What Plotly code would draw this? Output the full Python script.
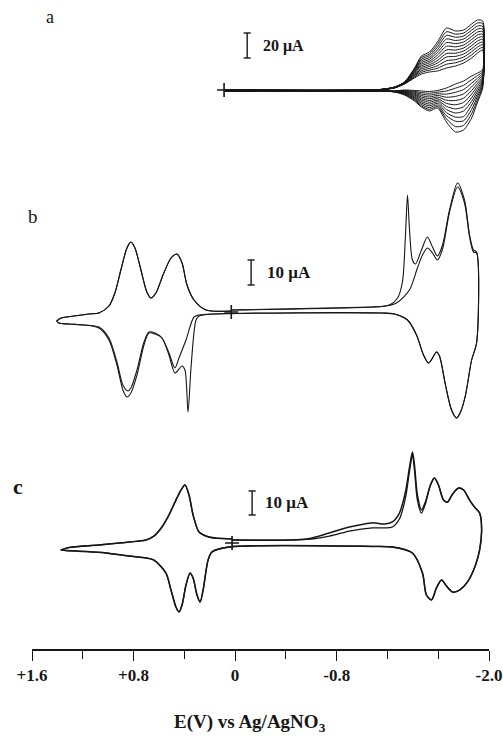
import plotly.graph_objects as go

# ---------------- data (E in V vs Ag/AgNO3, I in microamps, cathodic up) ----------------
# Panel a: repetitive cycles (12 scans), key potentials
E_A = [0.08, -1.14, -1.255, -1.334, -1.413, -1.468, -1.531, -1.594, -1.665, -1.736, -1.80, -1.863, -1.91, -1.95]
A_UP = [
    [0, 0.2, 1.6, 4.8, 9.6, 12.8, 14.4, 15.2, 17.6, 19.2, 21.6, 25.6, 29.6, 32.0],
    [0, 0.2, 1.7, 4.9, 10.3, 14.1, 15.9, 17.4, 20.6, 21.8, 24.0, 28.1, 32.0, 34.1],
    [0, 0.2, 1.7, 5.1, 11.1, 15.4, 17.3, 19.4, 23.4, 24.3, 26.4, 30.6, 34.4, 36.2],
    [0, 0.3, 1.8, 5.2, 11.8, 16.7, 18.8, 21.6, 26.4, 26.9, 28.8, 33.0, 36.8, 38.3],
    [0, 0.3, 1.9, 5.4, 12.5, 18.0, 20.2, 23.6, 29.2, 29.4, 31.2, 35.5, 39.2, 40.4],
    [0, 0.3, 2.0, 5.5, 13.3, 19.3, 21.7, 25.8, 32.1, 32.0, 33.6, 38.0, 41.6, 42.5],
    [0, 0.3, 2.0, 5.7, 14.0, 20.6, 23.1, 27.9, 35.0, 34.5, 36.0, 40.4, 44.0, 44.6],
    [0, 0.3, 2.1, 5.8, 14.7, 21.9, 24.6, 30.0, 37.9, 37.1, 38.4, 42.9, 46.4, 46.7],
    [0, 0.3, 2.2, 6.0, 15.5, 23.3, 26.0, 32.1, 40.8, 39.6, 40.8, 45.4, 48.8, 48.8],
    [0, 0.4, 2.3, 6.1, 16.2, 24.6, 27.5, 34.2, 43.7, 42.2, 43.2, 47.9, 51.2, 50.9],
    [0, 0.4, 2.3, 6.3, 16.9, 25.9, 28.9, 36.3, 46.6, 44.7, 45.6, 50.3, 53.6, 53.1],
    [0, 0.4, 2.4, 6.4, 17.6, 27.2, 30.4, 38.4, 49.6, 47.2, 48.0, 52.8, 56.0, 55.2],
]
A_DOWN = [
    [-0.8, -0.8, -0.8, 0.0, -0.4, -0.8, -1.2, -0.4, 1.6, 4.8, 7.2, 11.2, 13.6, 16.0],
    [-0.8, -0.8, -0.9, -0.4, -1.1, -2.0, -2.6, -1.7, -0.8, 1.5, 3.8, 8.3, 11.6, 14.7],
    [-0.8, -0.8, -0.9, -0.7, -1.9, -3.2, -4.1, -3.0, -3.3, -1.8, 0.4, 5.4, 9.5, 13.4],
    [-0.8, -0.8, -1.0, -1.1, -2.6, -4.4, -5.6, -4.3, -5.8, -5.1, -3.1, 2.5, 7.5, 12.1],
    [-0.8, -0.8, -1.1, -1.5, -3.4, -5.6, -7.0, -5.6, -8.2, -8.4, -6.5, -0.4, 5.4, 10.7],
    [-0.8, -0.8, -1.2, -1.8, -4.1, -6.8, -8.4, -6.9, -10.7, -11.8, -9.9, -3.3, 3.4, 9.4],
    [-0.8, -0.8, -1.2, -2.2, -4.9, -8.0, -9.8, -8.2, -13.1, -15.1, -13.4, -6.2, 1.3, 8.1],
    [-0.8, -0.8, -1.3, -2.5, -5.7, -9.2, -11.3, -9.4, -15.6, -18.4, -16.8, -9.1, -0.8, 6.8],
    [-0.8, -0.8, -1.4, -2.9, -6.4, -10.4, -12.7, -10.7, -18.1, -21.7, -21.2, -12.0, -2.9, 5.5],
    [-0.8, -0.8, -1.4, -3.3, -7.2, -11.6, -14.1, -12.0, -20.6, -25.0, -24.6, -15.6, -5.0, 4.2],
    [-0.8, -0.8, -1.5, -3.6, -8.0, -12.8, -15.5, -13.2, -23.1, -29.3, -28.3, -19.0, -7.3, 2.9],
    [-0.8, -0.8, -1.6, -4.0, -8.8, -13.6, -16.8, -14.4, -25.6, -33.6, -32.0, -22.4, -9.6, 1.6],
]

# Panel b: two scans
B_FWD_A_E = [0.03, -1.08, -1.215, -1.28, -1.318, -1.342, -1.358, -1.373, -1.397, -1.421, -1.468, -1.515, -1.555, -1.594, -1.634, -1.689, -1.752, -1.807, -1.847, -1.878, -1.902]
B_FWD_A_I = [0.0, 1.2, 2.0, 4.8, 11.2, 30.0, 46.0, 32.8, 20.0, 18.4, 24.0, 29.2, 25.2, 21.6, 26.0, 40.0, 50.8, 44.0, 30.0, 24.0, 23.2]
B_FWD_B_E = [0.03, -1.08, -1.16, -1.271, -1.373, -1.436, -1.476, -1.515, -1.555, -1.594, -1.634, -1.689, -1.752, -1.807, -1.847, -1.878, -1.902]
B_FWD_B_I = [0.0, 1.2, 1.4, 2.8, 8.0, 16.8, 22.0, 24.8, 22.8, 20.0, 24.4, 39.2, 49.2, 42.8, 29.2, 23.2, 22.8]
B_REV_E = [-1.902, -1.863, -1.815, -1.776, -1.744, -1.705, -1.657, -1.61, -1.586, -1.555, -1.523, -1.484, -1.429, -1.358, -1.255, -1.16, 0.166]
B_REV_I = [-13.2, -20.0, -34.0, -40.8, -43.2, -40.0, -30.0, -18.4, -16.8, -19.2, -21.2, -18.0, -10.0, -4.0, -1.6, -1.2, -1.6]
B_LEFT_A_E = [0.284, 0.308, 0.347, 0.371, 0.395, 0.418, 0.474, 0.521, 0.576, 0.631, 0.679, 0.718, 0.773, 0.821, 0.852, 0.884, 0.931, 0.994, 1.073, 1.192, 1.31, 1.389, 1.405]
B_LEFT_A_I = [-2.4, -4.0, -22.8, -40.8, -24.0, -22.4, -25.2, -18.0, -11.2, -9.6, -9.2, -14.0, -26.0, -33.2, -34.8, -32.0, -22.0, -12.0, -7.2, -6.0, -5.6, -5.2, -4.4]
B_LEFT_B_E = [0.284, 0.324, 0.387, 0.442, 0.474, 0.521, 0.576, 0.631, 0.679, 0.718, 0.773, 0.821, 0.845, 0.884, 0.931, 0.994, 1.073, 1.192, 1.31, 1.389, 1.405]
B_LEFT_B_I = [-2.0, -2.8, -12.0, -19.2, -23.2, -17.2, -11.2, -9.2, -8.8, -12.8, -24.0, -31.2, -32.4, -30.0, -20.8, -11.2, -6.8, -6.0, -5.6, -5.2, -4.4]
B_RET_E = [1.405, 1.37, 1.271, 1.152, 1.073, 0.994, 0.947, 0.9, 0.852, 0.821, 0.789, 0.742, 0.695, 0.663, 0.624, 0.568, 0.505, 0.458, 0.418, 0.379, 0.324, 0.229, 0.03]
B_RET_I = [-4.4, -3.2, -2.4, -1.6, -1.2, 1.6, 6.8, 16.0, 24.8, 27.2, 24.8, 16.0, 7.2, 4.8, 6.8, 14.0, 20.8, 22.4, 18.8, 10.0, 4.0, 0.0, -0.4]

# Panel c: two scans
C_FWD_E = [0.024, -0.56, -0.742, -0.9, -1.081, -1.176, -1.239, -1.294, -1.342, -1.373, -1.397, -1.413, -1.436, -1.468, -1.499, -1.539, -1.57, -1.602, -1.642, -1.673, -1.713, -1.76, -1.8, -1.847, -1.886, -1.926, -1.942]
C_FWD_1_I = [1.7, 2.1, 4.6, 7.1, 8.8, 8.3, 9.2, 12.9, 21.7, 31.7, 38.3, 32.9, 20.4, 14.2, 17.5, 24.6, 27.5, 24.6, 18.3, 17.5, 20.8, 23.3, 22.5, 18.3, 15.4, 12.9, 5.8]
C_FWD_2_I = [1.7, 1.9, 3.3, 5.4, 6.7, 6.7, 7.1, 10.4, 19.2, 30.0, 37.1, 30.8, 18.3, 12.9, 16.7, 24.6, 27.5, 24.6, 18.3, 17.5, 20.8, 23.3, 22.5, 18.3, 15.4, 12.9, 5.8]
C_REV_E = [-1.926, -1.894, -1.831, -1.768, -1.713, -1.665, -1.626, -1.586, -1.547, -1.507, -1.476, -1.397, -1.239, -1.081, 0.047]
C_REV_I = [-2.5, -8.75, -15.8, -19.2, -20.0, -17.5, -15.0, -18.3, -23.3, -21.25, -12.1, -3.75, -1.25, -1.0, -1.25]
C_LEFT_E = [0.182, 0.213, 0.252, 0.276, 0.3, 0.331, 0.355, 0.387, 0.418, 0.442, 0.466, 0.505, 0.545, 0.639, 0.702, 0.837, 1.018, 1.192, 1.33, 1.373]
C_LEFT_I = [-3.3, -6.7, -19.2, -24.2, -21.25, -14.2, -12.1, -17.1, -25.4, -28.3, -26.25, -19.2, -12.1, -6.7, -5.8, -5.0, -3.75, -3.1, -2.7, -2.5]
C_RET_E = [1.373, 1.31, 1.073, 0.837, 0.702, 0.639, 0.576, 0.521, 0.466, 0.426, 0.395, 0.363, 0.331, 0.284, 0.205, 0.024]
C_RET_I = [-2.5, -1.5, -0.4, 0.8, 1.7, 3.3, 7.1, 12.1, 18.3, 22.5, 24.6, 20.4, 12.1, 5.0, 2.9, 2.1]

# start potentials (+ markers)
START_E = [0.087, 0.03, 0.024]
START_I = [0.0, -0.8, 0.4]

# scale bars (microamps)
SCALE_A = 20
SCALE_B = 10
SCALE_C = 10

TICK_VALS = [1.6, 0.8, 0.0, -0.8, -2.0]
TICK_TEXT = ["+1.6", "+0.8", "0", "-0.8", "-2.0"]
MINOR_STEP = 0.4
X_TITLE = "E(V) vs Ag/AgNO<sub>3</sub>"

# ---------------- figure ----------------
INK = "#161616"
SERIF = "Liberation Serif, Times New Roman, serif"
fig = go.Figure()

def add_line(x, y, yaxis, width=1.1, smoothing=0.8):
    fig.add_trace(go.Scatter(x=x, y=y, mode="lines", yaxis=yaxis, xaxis="x",
                             line=dict(color=INK, width=width, shape="spline", smoothing=smoothing),
                             hoverinfo="skip", showlegend=False))

# panel a
for up, dn in zip(A_UP, A_DOWN):
    add_line(E_A + E_A[::-1], up + dn[::-1], "y", width=1.0, smoothing=0.7)

# panel b
add_line(B_FWD_A_E + B_REV_E + B_LEFT_A_E + B_RET_E, B_FWD_A_I + B_REV_I + B_LEFT_A_I + B_RET_I, "y2", 1.1)
add_line(B_FWD_B_E + B_REV_E + B_LEFT_B_E + B_RET_E, B_FWD_B_I + B_REV_I + B_LEFT_B_I + B_RET_I, "y2", 1.1)

# panel c
add_line(C_FWD_E + C_REV_E + C_LEFT_E + C_RET_E, C_FWD_1_I + C_REV_I + C_LEFT_I + C_RET_I, "y3", 1.5)
add_line(C_FWD_E + C_REV_E + C_LEFT_E + C_RET_E, C_FWD_2_I + C_REV_I + C_LEFT_I + C_RET_I, "y3", 1.3)

# start markers
for e, i, ax in zip(START_E, START_I, ["y", "y2", "y3"]):
    fig.add_trace(go.Scatter(x=[e], y=[i], mode="markers", xaxis="x", yaxis=ax,
                             marker=dict(symbol="cross-thin", size=10, line=dict(color=INK, width=1.6)),
                             hoverinfo="skip", showlegend=False))

# scale bars
def scale_bar(e, i0, size, yref, cap=0.028, label_e=None, fs=13):
    fig.add_shape(type="line", xref="x", yref=yref, x0=e, x1=e, y0=i0, y1=i0 + size,
                  line=dict(color=INK, width=1.4))
    for yy in (i0, i0 + size):
        fig.add_shape(type="line", xref="x", yref=yref, x0=e + cap, x1=e - cap, y0=yy, y1=yy,
                      line=dict(color=INK, width=1.4))
    fig.add_annotation(x=label_e, y=i0 + size / 2, xref="x", yref=yref, text=f"<b>{size} μA</b>",
                       showarrow=False, xanchor="left", yanchor="middle",
                       font=dict(family=SERIF, size=fs, color=INK))

scale_bar(-0.095, 25.6, SCALE_A, "y", label_e=-0.2, fs=16)
scale_bar(-0.126, 10.0, SCALE_B, "y2", label_e=-0.235, fs=17)
scale_bar(-0.134, 12.1, SCALE_C, "y3", label_e=-0.22, fs=17)

# panel letters
def letter(x, y, text, size):
    fig.add_annotation(x=x, y=y, xref="paper", yref="paper", text=text, showarrow=False,
                       xanchor="center", yanchor="middle",
                       font=dict(family=SERIF, size=size, color=INK))

letter(0.039, 0.974, "a", 18)
letter(0.002, 0.666, "b", 19)
letter(-0.031, 0.25, "<b>c</b>", 22)

# axis title
fig.add_annotation(x=0.477, y=-0.114, xref="paper", yref="paper", text=X_TITLE, showarrow=False,
                   xanchor="center", yanchor="middle",
                   font=dict(family=SERIF, size=19, color=INK, weight="bold"))

hidden = dict(visible=False, showgrid=False, zeroline=False, domain=[0, 1])
fig.update_layout(
    width=503, height=738, autosize=False,
    margin=dict(l=32, r=14, t=0, b=89),
    paper_bgcolor="white", plot_bgcolor="white",
    xaxis=dict(range=[1.6, -2.0], showgrid=False, zeroline=False, showline=True,
               linecolor=INK, linewidth=1.6, ticks="outside", ticklen=10, tickwidth=1.3,
               tickcolor=INK, tickvals=TICK_VALS, ticktext=TICK_TEXT,
               minor=dict(tick0=0, dtick=MINOR_STEP, ticks="outside", ticklen=8,
                          tickwidth=1.3, tickcolor=INK, showgrid=False),
               tickfont=dict(family=SERIF, size=17, color=INK, weight="bold")),
    yaxis=dict(range=[-447.2, 72.0], **hidden),
    yaxis2=dict(range=[-135.6, 124.0], overlaying="y", **hidden),
    yaxis3=dict(range=[-43.75, 226.67], overlaying="y", **hidden),
)

fig.write_html("out.html")
